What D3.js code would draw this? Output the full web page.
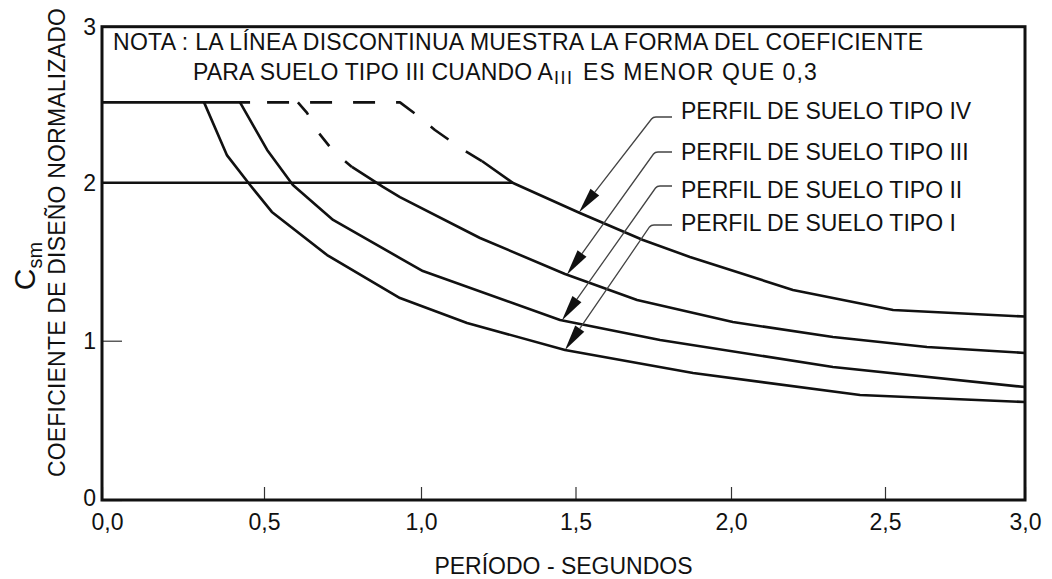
<!DOCTYPE html>
<html><head><meta charset="utf-8">
<script src="https://cdn.jsdelivr.net/npm/d3@7"></script>
<style>body{margin:0;background:#fff}svg{display:block}</style>
</head><body><svg id="c" width="1052" height="579"></svg>
<script>
// ---- data ----
const periodTicks = [0, 0.5, 1, 1.5, 2, 2.5, 3];
const periodTickLabels = ["0,0", "0,5", "1,0", "1,5", "2,0", "2,5", "3,0"];
const coefTicks = [0, 1, 2, 3];
const coefTickLabels = ["0", "1", "2", "3"];

const plateauLevel = 2.515;     // 2.5 plateau
const plateauSolidEndT = 0.457;
const capLevel = 2.0;           // 2.0 cap line
const capEndT = 1.298;

const typeI_T = [0.315, 0.386, 0.457, 0.525, 0.701, 0.933, 1.149, 1.466, 1.878, 2.419, 3.0];
const typeI_C = [2.515, 2.175, 1.985, 1.815, 1.542, 1.270, 1.112, 0.942, 0.797, 0.659, 0.615];

const typeII_T = [0.426, 0.510, 0.592, 0.720, 0.933, 1.006, 1.450, 1.772, 2.331, 3.0];
const typeII_C = [2.515, 2.210, 1.985, 1.764, 1.523, 1.441, 1.131, 1.004, 0.835, 0.709];

const typeIIIdash_T = [0.608, 0.637, 0.672, 0.723, 0.780];
const typeIIIdash_C = [2.515, 2.447, 2.325, 2.197, 2.101];
const typeIII_T = [0.780, 0.879, 0.933, 1.191, 1.466, 1.698, 2.006, 2.331, 2.650, 3.0];
const typeIII_C = [2.101, 1.973, 1.909, 1.650, 1.422, 1.258, 1.118, 1.023, 0.960, 0.923];

const typeIVdash_T = [0.457, 0.933, 0.987, 1.045, 1.133, 1.197];
const typeIVdash_C = [2.515, 2.515, 2.434, 2.338, 2.216, 2.139];
const typeIV_T = [1.197, 1.298, 1.514, 1.717, 1.868, 2.201, 2.529, 3.0];
const typeIV_C = [2.139, 1.998, 1.808, 1.637, 1.530, 1.321, 1.194, 1.153];

const profileLabels = ["PERFIL DE SUELO TIPO IV", "PERFIL DE SUELO TIPO III", "PERFIL DE SUELO TIPO II", "PERFIL DE SUELO TIPO I"];
const arrowTipT = [1.511, 1.472, 1.456, 1.466];

const noteLine1 = "NOTA : LA LÍNEA DISCONTINUA MUESTRA LA FORMA DEL COEFICIENTE";
const noteLine2a = "PARA SUELO TIPO III CUANDO A";
const noteLine2sub = "III";
const noteLine2b = " ES MENOR QUE 0,3";
const xTitle = "PERÍODO - SEGUNDOS";
const yTitle = "COEFICIENTE DE DISEÑO NORMALIZADO";

// ---- drawing ----
const FONT = "'Liberation Sans', Arial, Helvetica, sans-serif";
const INK = "#111";
const svg = d3.select("#c");
// scanned drawing: tick spacing is slightly uneven, so the scales are piecewise linear
const x = d3.scaleLinear(periodTicks, [102, 264, 421, 575.5, 731, 885, 1025]);
const y = d3.scaleLinear(coefTicks, [500, 340.7, 182.7, 26.7]);
const zip = (T, C) => T.map((t, i) => [t, C[i]]);
const line = d3.line().x(d => x(d[0])).y(d => y(d[1]));

// axes
const gx = svg.append("g").attr("transform", `translate(0,${y(0)})`)
  .call(d3.axisBottom(x).tickValues(periodTicks).tickSize(-13).tickPadding(13.5)
    .tickFormat((d, i) => periodTickLabels[i]));
gx.select(".domain").remove();
gx.selectAll("line").attr("stroke", "#333").attr("stroke-width", 1.2);
gx.selectAll("text").attr("font-size", 23).attr("font-family", FONT).attr("fill", INK)
  .attr("dx", d => d === 0 ? 5 : 0);

const gy = svg.append("g").attr("transform", `translate(${x(0)},0)`)
  .call(d3.axisLeft(y).tickValues(coefTicks).tickSize(-20).tickPadding(6)
    .tickFormat((d, i) => coefTickLabels[i]));
gy.select(".domain").remove();
gy.selectAll("line").attr("stroke", "#333").attr("stroke-width", 1.2);
gy.selectAll("text").attr("font-size", 23).attr("font-family", FONT).attr("fill", INK)
  .attr("dy", d => d === 0 ? "0.22em" : "0.32em");

// frame
svg.append("rect").attr("x", x(0)).attr("y", y(3)).attr("width", x(3) - x(0)).attr("height", y(0) - y(3))
  .attr("fill", "none").attr("stroke", INK).attr("stroke-width", 3);

const curves = svg.append("g").attr("fill", "none").attr("stroke", INK).attr("stroke-width", 2.6)
  .attr("stroke-linejoin", "round");

// plateau and cap lines
curves.append("path").attr("d", line([[0, plateauLevel], [plateauSolidEndT, plateauLevel]]));
curves.append("path").attr("d", line([[0, capLevel], [capEndT, capLevel]]));

// solid curves
[[typeI_T, typeI_C], [typeII_T, typeII_C], [typeIII_T, typeIII_C], [typeIV_T, typeIV_C]]
  .forEach(([T, C]) => curves.append("path").attr("d", line(zip(T, C))));

// dashed curves
curves.append("path").attr("d", line(zip(typeIVdash_T, typeIVdash_C)))
  .attr("stroke-dasharray", "22 21").attr("stroke-dashoffset", 26);
curves.append("path").attr("d", line(zip(typeIIIdash_T, typeIIIdash_C)))
  .attr("stroke-dasharray", "16 22");

// labels with leader arrows
const labelX = 681;
const labelBase = [119, 159.5, 197.5, 231];
const elbowY = [117, 152, 186, 225];
const elbowX = [653, 655, 657, 651];
const curveSets = [[typeIV_T, typeIV_C], [typeIII_T, typeIII_C], [typeII_T, typeII_C], [typeI_T, typeI_C]];
function interp(T, C, t) {
  for (let i = 0; i < T.length - 1; i++) {
    if (t >= T[i] && t <= T[i + 1]) return C[i] + (C[i + 1] - C[i]) * (t - T[i]) / (T[i + 1] - T[i]);
  }
  return C[C.length - 1];
}
profileLabels.forEach((lab, i) => {
  svg.append("text").attr("x", labelX).attr("y", labelBase[i]).text(lab)
    .attr("font-size", 23).attr("font-family", FONT).attr("fill", INK);
  const [T, C] = curveSets[i];
  const tx = x(arrowTipT[i]), ty = y(interp(T, C, arrowTipT[i]));
  const ex = elbowX[i], ey = elbowY[i];
  const dx = tx - ex, dy = ty - ey, len = Math.hypot(dx, dy);
  const ux = dx / len, uy = dy / len, nx = -uy, ny = ux;
  const L = 26, W = 5.5;
  const bx = tx - ux * L, by = ty - uy * L;
  svg.append("path").attr("d", `M${labelX - 9},${ey} L${ex + 3},${ey} Q${ex},${ey} ${ex - 1.5},${ey + 2} L${bx},${by}`)
    .attr("fill", "none").attr("stroke", "#444").attr("stroke-width", 1.3);
  svg.append("path").attr("d", `M${tx},${ty} L${bx + nx * W},${by + ny * W} L${bx - nx * W},${by - ny * W} Z`)
    .attr("fill", INK);
});

// note
svg.append("text").attr("x", 113).attr("y", 50).text(noteLine1).attr("letter-spacing", 0.3)
  .attr("font-size", 23).attr("font-family", FONT).attr("fill", INK);
const n2 = svg.append("text").attr("x", 193).attr("y", 80)
  .attr("font-size", 23).attr("font-family", FONT).attr("fill", INK);
n2.append("tspan").text(noteLine2a).attr("letter-spacing", 0.15);
n2.append("tspan").text(noteLine2sub).attr("font-size", 18).attr("letter-spacing", 1.5).attr("dx", 1).attr("dy", 4);
n2.append("tspan").text(noteLine2b).attr("dy", -4).attr("dx", 2).attr("letter-spacing", 1.1);

// axis titles
svg.append("text").attr("x", (x(0) + x(3)) / 2).attr("y", 574).attr("text-anchor", "middle").text(xTitle)
  .attr("font-size", 23).attr("font-family", FONT).attr("fill", INK);
svg.append("text").attr("transform", "translate(65,242.5) rotate(-90)").attr("text-anchor", "middle").text(yTitle)
  .attr("letter-spacing", 0.2)
  .attr("font-size", 23).attr("font-family", FONT).attr("fill", INK);
const cs = svg.append("text").attr("transform", "translate(35,266) rotate(-90)").attr("text-anchor", "middle")
  .attr("font-family", FONT).attr("fill", INK);
cs.append("tspan").text("C").attr("font-size", 30);
cs.append("tspan").text("sm").attr("font-size", 20).attr("dy", 7);
</script></body></html>
